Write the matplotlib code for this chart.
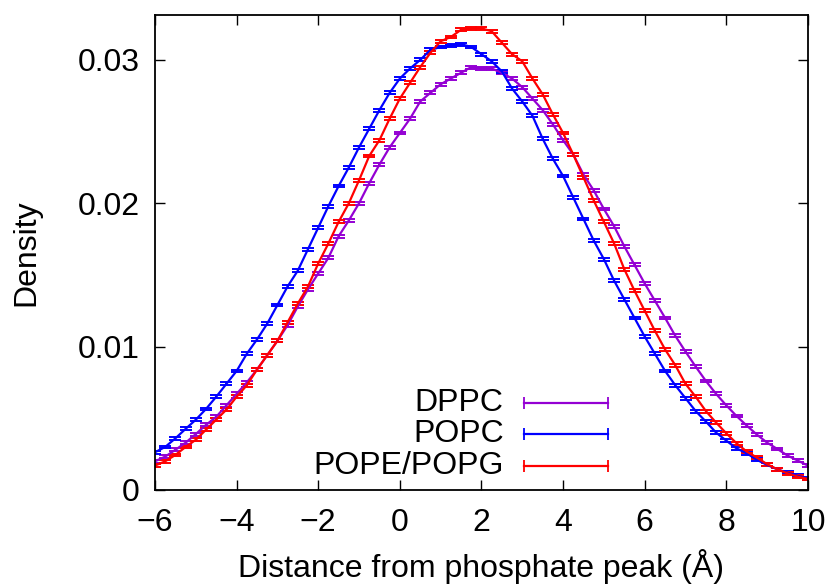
import numpy as np
import matplotlib.pyplot as plt

plt.rcParams['font.family'] = ['Liberation Sans', 'DejaVu Sans']

# distance grid, -6 .. 10 in 0.25 steps
distance = np.arange(-6.0, 10.001, 0.25)

dppc = [0.0020, 0.00233, 0.0028, 0.0033, 0.0039, 0.00454, 0.0051, 0.0059,
        0.0067, 0.0075, 0.0084, 0.0094, 0.0104, 0.0115, 0.0128, 0.0140,
        0.0151, 0.0162, 0.0177, 0.0188, 0.0200, 0.0214, 0.0227, 0.0239,
        0.0249, 0.0259, 0.0271, 0.0277, 0.0283, 0.0287, 0.0291, 0.0295,
        0.0294, 0.0294, 0.0291, 0.0287, 0.0281, 0.0273, 0.0265, 0.0255,
        0.0244, 0.0234, 0.0220, 0.0209, 0.0196, 0.0184, 0.0170, 0.0157,
        0.0144, 0.0132, 0.0120, 0.01075, 0.00965, 0.0086, 0.0076, 0.0067,
        0.0059, 0.00516, 0.00449, 0.00386, 0.0033, 0.00286, 0.0024, 0.00205,
        0.0017]

popc = [0.00263, 0.0030, 0.0036, 0.00426, 0.0049, 0.00565, 0.0065, 0.0074,
        0.0083, 0.0095, 0.0105, 0.0116, 0.0129, 0.0142, 0.0153, 0.0168,
        0.0183, 0.0198, 0.0212, 0.0225, 0.0239, 0.0252, 0.0265, 0.0277,
        0.0287, 0.0294, 0.0300, 0.0307, 0.0309, 0.0310, 0.0311, 0.0309,
        0.0304, 0.0299, 0.0292, 0.0280, 0.0271, 0.0261, 0.0245, 0.0231,
        0.0219, 0.0204, 0.0189, 0.0174, 0.0161, 0.0146, 0.0133, 0.0120,
        0.0107, 0.0095, 0.0083, 0.0073, 0.0064, 0.0055, 0.00477, 0.0040,
        0.00344, 0.0029, 0.00256, 0.0021, 0.00175, 0.00144, 0.0012, 0.00098,
        0.00082]

pope_popg = [0.0017, 0.0020, 0.00244, 0.0030, 0.0035, 0.0042, 0.0049, 0.0056,
             0.0065, 0.0073, 0.0084, 0.0094, 0.0104, 0.0117, 0.0130, 0.0142,
             0.0158, 0.0172, 0.0187, 0.0200, 0.0216, 0.0233, 0.0244, 0.0259,
             0.0273, 0.0284, 0.0295, 0.0305, 0.0313, 0.0316, 0.0321, 0.0322,
             0.0322, 0.0320, 0.0312, 0.0304, 0.0299, 0.0287, 0.0276, 0.0262,
             0.0249, 0.0234, 0.0218, 0.0202, 0.0187, 0.0172, 0.0154, 0.0139,
             0.0125, 0.0111, 0.0098, 0.0087, 0.0074, 0.0065, 0.0055, 0.0047,
             0.00395, 0.00326, 0.00268, 0.00226, 0.0018, 0.00144, 0.00116, 0.00093,
             0.00077]

err = 0.0001

names = ["DPPC", "POPC", "POPE/POPG"]
colors = ["#9400D3", "#0000FF", "#FF0000"]
series = [dppc, popc, pope_popg]

x_ticks = [-6, -4, -2, 0, 2, 4, 6, 8, 10]
y_ticks = [0, 0.01, 0.02, 0.03]
y_labels = ["0", "0.01", "0.02", "0.03"]

fs = 23

fig = plt.figure(figsize=(8.35, 5.88), dpi=100)
ax = fig.add_axes([0.1856, 0.1667, 0.782, 0.807])

for name, col, vals in zip(names, colors, series):
    ax.errorbar(distance, vals, yerr=err, color=col, lw=1.6, elinewidth=1.4,
                capsize=4, capthick=1.4)

# gnuplot-style key, text on the left, sample on the right
key_y = [0.183, 0.118, 0.051]
for name, col, ky in zip(names, colors, key_y):
    ax.text(0.534, ky, name, transform=ax.transAxes, ha="right", va="center",
            fontsize=fs)
    ax.plot([0.565, 0.694], [ky, ky], color=col, lw=1.6, transform=ax.transAxes)
    ax.plot([0.565, 0.694], [ky, ky], color=col, lw=0, marker="|", ms=8, mew=1.3,
            transform=ax.transAxes)

ax.set_xlim(-6, 10)
ax.set_ylim(0, 0.0331)
ax.set_xticks(x_ticks)
ax.set_xticklabels([str(t).replace("-", "\u2212") for t in x_ticks])
ax.set_yticks(y_ticks)
ax.set_yticklabels(y_labels)
ax.tick_params(direction="in", length=7, width=1, top=True, right=True,
               labelsize=fs)
ax.tick_params(axis="x", pad=13)
ax.tick_params(axis="y", pad=11)
for sp in ax.spines.values():
    sp.set_linewidth(1.3)

ax.set_xlabel("Distance from phosphate peak (Å)", fontsize=fs, labelpad=8)
ax.set_ylabel("Density", fontsize=fs, labelpad=26)

fig.savefig("out.png", dpi=100)
